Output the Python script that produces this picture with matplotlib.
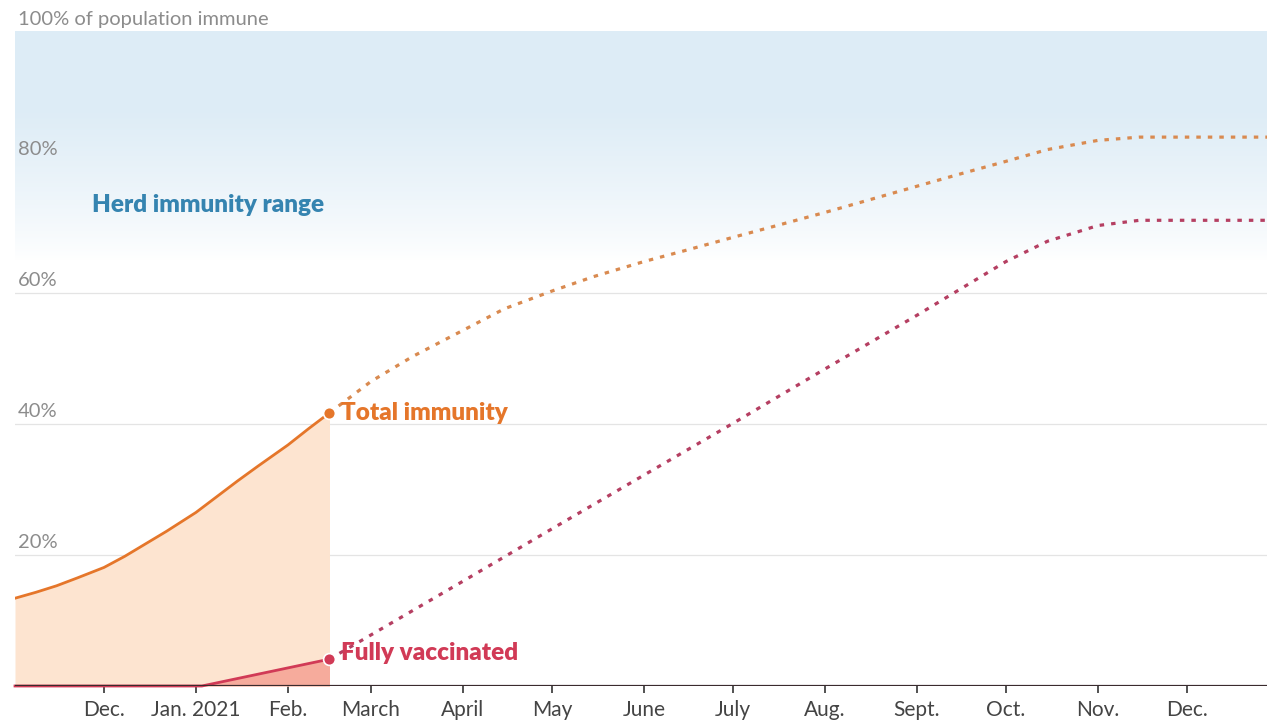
import matplotlib
matplotlib.use("Agg")
import matplotlib.pyplot as plt
import matplotlib.dates as mdates
import numpy as np
import pandas as pd

# observed values (percent of population)
total_dates = ["2020-11-01", "2020-11-08", "2020-11-15", "2020-11-22", "2020-12-01",
               "2020-12-08", "2020-12-15", "2020-12-22", "2021-01-01", "2021-01-08",
               "2021-01-15", "2021-01-22", "2021-02-01", "2021-02-08", "2021-02-15"]
total_vals = [13.4, 14.3, 15.3, 16.5, 18.1, 19.8, 21.7, 23.6, 26.5, 28.9,
              31.3, 33.6, 36.8, 39.3, 41.7]

vacc_dates = ["2020-11-01", "2021-01-03", "2021-02-15"]
vacc_vals = [0.0, 0.0, 4.1]

# projections
total_proj_dates = ["2021-02-15", "2021-03-01", "2021-03-15", "2021-04-01", "2021-04-15",
                    "2021-05-01", "2021-05-15", "2021-06-01", "2021-06-15", "2021-07-01",
                    "2021-07-15", "2021-08-01", "2021-08-15", "2021-09-01", "2021-09-15",
                    "2021-10-01", "2021-10-15", "2021-11-01", "2021-11-15", "2021-12-31"]
total_proj_vals = [41.7, 46.5, 50.3, 54.3, 57.6, 60.3, 62.5, 64.8, 66.5, 68.5,
                   70.2, 72.3, 74.1, 76.3, 78.1, 80.1, 81.9, 83.3, 83.8, 83.8]

vacc_proj_dates = ["2021-02-15", "2021-04-01", "2021-05-01", "2021-06-01", "2021-07-01",
                   "2021-08-01", "2021-09-01", "2021-10-01", "2021-10-15", "2021-11-01",
                   "2021-11-15", "2021-12-31"]
vacc_proj_vals = [4.1, 16.0, 24.0, 32.2, 40.1, 48.4, 56.6, 64.8, 67.9, 70.3, 71.1, 71.1]

month_ticks = pd.date_range("2020-12-01", "2021-12-01", freq="MS")
month_labels = ["Dec.", "Jan. 2021", "Feb.", "March", "April", "May", "June", "July",
                "Aug.", "Sept.", "Oct.", "Nov.", "Dec."]
y_ticks = [20, 40, 60, 80]
grid_lines = [20, 40, 60]

ORANGE = "#e5762a"
ORANGE_DOT = "#d98a50"
RED = "#d13a56"
RED_DOT = "#b53f62"
BLUE_TXT = "#3584b0"

plt.rcParams['font.family'] = ['Lato', 'DejaVu Sans']

fig = plt.figure(figsize=(12.67, 7.21), dpi=100)
ax = fig.add_axes([15 / 1267, 35 / 721, 1252 / 1267, 655 / 721])

x0 = pd.Timestamp("2020-11-01")
x1 = pd.Timestamp("2021-12-28")
ax.set_xlim(x0, x1)
ax.set_ylim(0, 100)

# herd immunity band, fading out downward
lo, hi = 65, 100
yy = np.linspace(lo, hi, 400)
t = np.clip((yy - lo) / (88 - lo), 0, 1)
alpha = t ** 0.8
grad = np.zeros((len(yy), 1, 4))
grad[..., 0] = 0.870
grad[..., 1] = 0.929
grad[..., 2] = 0.968
grad[..., 3] = alpha[:, None]
ax.imshow(grad, aspect="auto", origin="lower",
          extent=[mdates.date2num(x0), mdates.date2num(x1), lo, hi], zorder=0)

for y in grid_lines:
    ax.axhline(y, color="#e4e4e4", lw=0.9, zorder=1)
for y in y_ticks:
    ax.text(0.0025, y + 0.6, f"{y}%", transform=ax.get_yaxis_transform(),
            color="#8c8c8c", fontsize=14.5, va="bottom", ha="left")
ax.text(0.0025, 100.4, "100% of population immune", transform=ax.get_yaxis_transform(),
        color="#8c8c8c", fontsize=14.5, va="bottom", ha="left", clip_on=False)

td = pd.to_datetime(total_dates)
vd = pd.to_datetime(vacc_dates)
ax.fill_between(td, 0, total_vals, color="#fde4d0", lw=0, zorder=2)
ax.fill_between(vd, 0, vacc_vals, color="#f6ab9c", lw=0, zorder=3)

ax.plot(pd.to_datetime(total_proj_dates), total_proj_vals, color=ORANGE_DOT, lw=2.3,
        linestyle=(0, (1.4, 2.2)), dash_capstyle="butt", zorder=4)
ax.plot(pd.to_datetime(vacc_proj_dates), vacc_proj_vals, color=RED_DOT, lw=2.3,
        linestyle=(0, (1.4, 2.2)), dash_capstyle="butt", zorder=4)

ax.plot(td, total_vals, color=ORANGE, lw=2.0, zorder=6)
ax.plot(vd, vacc_vals, color=RED, lw=2.0, zorder=6, clip_on=False)
ax.axhline(0, color="#3a2b2e", lw=1.6, zorder=6.5)

ax.plot(td[-1], total_vals[-1], "o", ms=8.5, color=ORANGE, mec="white", mew=1.2, zorder=7)
ax.plot(vd[-1], vacc_vals[-1], "o", ms=8.5, color=RED, mec="white", mew=1.2, zorder=7)

ax.text(td[-1] + pd.Timedelta(days=4), total_vals[-1], "Total immunity", color=ORANGE,
        fontsize=17.5, fontweight="heavy", va="center", ha="left", zorder=8)
ax.text(vd[-1] + pd.Timedelta(days=4), vacc_vals[-1] + 1.0, "Fully vaccinated", color=RED,
        fontsize=17.5, fontweight="heavy", va="center", ha="left", zorder=8)
ax.text(pd.Timestamp("2020-11-27"), 73.4, "Herd immunity range", color=BLUE_TXT,
        fontsize=17.5, fontweight="heavy", va="center", ha="left", zorder=8)

ax.set_xticks(month_ticks)
ax.set_xticklabels(month_labels)
ax.tick_params(axis="x", length=5, width=1.2, color="#333333", labelsize=15,
               labelcolor="#444444", pad=5)
ax.set_yticks([])
for s in ax.spines.values():
    s.set_visible(False)

fig.savefig("out.png", dpi=100)
